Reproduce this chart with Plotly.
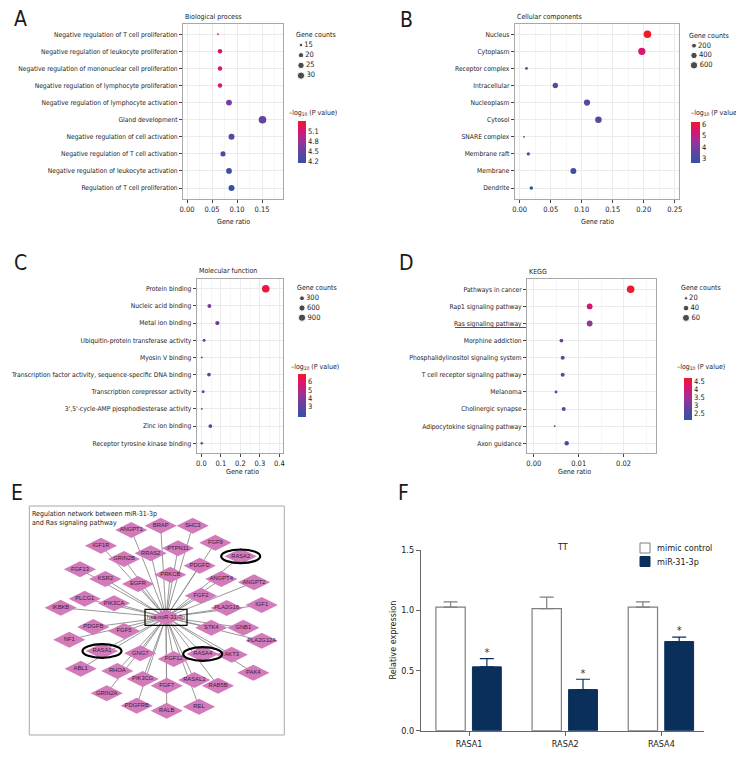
import math
import plotly.graph_objects as go

# page is 744x768; the html body has an 8px margin, so the figure is drawn 8px in
W, H = 744, 768
OFF = 8
FW, FH = W - OFF, H - OFF
FONT = "Liberation Sans Narrow, DejaVu Sans Condensed, Arial Narrow, sans-serif"
NODE_FONT = "Liberation Sans, Arial, sans-serif"
INK = "#1a1a1a"
COLORSCALE = [[0, '#3552a3'], [0.3, '#6642a0'], [0.55, '#a32f95'],
              [0.8, '#de126e'], [1, '#ec1c28']]

# ---- A: GO biological process ----
bp_terms = ["Negative regulation of T cell proliferation",
            "Negative regulation of leukocyte proliferation",
            "Negative regulation of mononuclear cell proliferation",
            "Negative regulation of lymphocyte proliferation",
            "Negative regulation of lymphocyte activation",
            "Gland development",
            "Negative regulation of cell activation",
            "Negative regulation of T cell activation",
            "Negative regulation of leukocyte activation",
            "Regulation of T cell proliferation"]
bp_ratio = [0.062, 0.066, 0.066, 0.066, 0.084, 0.151, 0.089, 0.072, 0.084, 0.089]
bp_count = [13, 17, 17, 17, 22, 32, 23, 19, 22, 23]
bp_logp = [5.35, 5.15, 5.15, 5.1, 4.6, 4.5, 4.4, 4.3, 4.2, 4.15]
bp_size_keys = [15, 20, 25, 30]
bp_cticks = [4.2, 4.5, 4.8, 5.1]

# ---- B: GO cellular components ----
cc_terms = ["Nucleus", "Cytoplasm", "Receptor complex", "Intracellular", "Nucleoplasm",
            "Cytosol", "SNARE complex", "Membrane raft", "Membrane", "Dendrite"]
cc_ratio = [0.206, 0.197, 0.011, 0.0575, 0.1086, 0.127, 0.007, 0.014, 0.0866, 0.0188]
cc_count = [640, 560, 40, 260, 380, 430, 20, 60, 340, 80]
cc_logp = [6.2, 5.4, 3.9, 3.6, 3.5, 3.4, 3.3, 3.0, 2.75, 2.7]
cc_size_keys = [200, 400, 600]
cc_cticks = [3, 4, 5, 6]

# ---- C: GO molecular function ----
mf_terms = ["Protein binding", "Nucleic acid binding", "Metal ion binding",
            "Ubiquitin-protein transferase activity", "Myosin V binding",
            "Transcription factor activity, sequence-specific DNA binding",
            "Transcription corepressor activity",
            "3',5'-cycle-AMP pjosphodiesterase activity",
            "Zinc ion binding", "Receptor tyrosine kinase binding"]
mf_ratio = [0.33, 0.041, 0.082, 0.014, 0.002, 0.039, 0.009, 0.002, 0.046, 0.002]
mf_count = [1000, 150, 200, 60, 15, 120, 50, 15, 130, 30]
mf_logp = [6.6, 3.6, 3.5, 3.1, 3.0, 3.0, 2.9, 2.8, 2.6, 2.6]
mf_size_keys = [300, 600, 900]
mf_cticks = [3, 4, 5, 6]

# ---- D: KEGG ----
kegg_terms = ["Pathways in cancer", "Rap1 signaling pathway", "Ras signaling pathway",
              "Morphine addiction", "Phosphalidylinositol signaling system",
              "T cell receptor signaling pathway", "Melanoma", "Cholinergic synapse",
              "Adipocytokine signaling pathway", "Axon guidance"]
kegg_ratio = [0.02156, 0.01244, 0.01244, 0.00615, 0.00644, 0.00644, 0.00496, 0.00667, 0.00467, 0.00733]
kegg_count = [70, 42, 42, 22, 24, 24, 18, 24, 16, 27]
kegg_logp = [4.65, 4.0, 3.35, 3.0, 2.95, 2.9, 2.85, 2.6, 2.6, 2.3]
kegg_size_keys = [20, 40, 60]
kegg_cticks = [2.5, 3.0, 3.5, 4.0, 4.5]

# ---- E: regulation network (layout positions) ----
mirna_name = "hsa-miR-31-3p"
mirna_pos = (166, 617.3)
net_genes = ["ANGPT1", "BRAP", "SHC3", "IGF1R", "FGF9", "RRAS2", "PTPN11", "RASA2",
             "GRIN2B", "PDGFD", "FGF13", "PRKCB", "KSR2", "EGFR", "ANGPT4", "ANGPT2",
             "FGF2", "PLCG1", "PIK3CA", "IKBKB", "PLA2G16", "IGF1", "PDGFB", "STK4",
             "GNB1", "FGF5", "NF1", "PLA2G12A", "RASA1", "GNG7", "RASA4", "AKT3",
             "FGF12", "ABL1", "RHOA", "PAK4", "PIK3CG", "RASAL2", "FGF7", "RAB5B",
             "GRIN2A", "PDGFRB", "RALB", "REL"]
net_x = [131.3, 160.7, 192.7, 101, 215.3, 150.7, 178, 240.7, 124, 199.7, 80, 170.3,
         105.3, 138, 221.3, 254, 201, 84.7, 114, 60.7, 226.7, 261.7, 93.3, 211.3,
         243.3, 124, 69.3, 261.7, 102, 140.3, 202.7, 231.7, 173.7, 80.7, 117.3, 253.3,
         142.7, 194.3, 166.7, 218, 106.7, 136.7, 166.7, 199]
net_y = [530, 525.7, 525.7, 545.7, 542.7, 553.3, 548.3, 556.3, 559, 565.7, 569.3, 574.7,
         579, 584, 579, 582.3, 595.7, 598.7, 603.3, 607.7, 608, 605, 627, 627.7,
         627.7, 631, 639.7, 640.7, 651, 653.3, 654, 654.7, 659, 668.7, 671, 672.7,
         679, 680, 685.7, 685.7, 693.3, 705.7, 710.7, 706.7]
highlight = ["RASA1", "RASA2", "RASA4"]

# ---- F: qPCR ----
genes = ["RASA1", "RASA2", "RASA4"]
ctrl_mean = [1.026, 1.014, 1.026]
ctrl_sem = [0.044, 0.095, 0.044]
mir_mean = [0.53, 0.341, 0.74]
mir_sem = [0.068, 0.086, 0.036]


def px(x):
    return (x - OFF) / FW


def py(y):
    return 1 - (y - OFF) / FH


def dot_size(v, lo, hi, dmin=1.8, dmax=7.6):
    return dmin + (dmax - dmin) * math.sqrt(max(v - lo, 0) / (hi - lo))


def note(text, x, y, size=7, xanchor='center', yanchor='middle', **kw):
    return dict(text=text, x=px(x), y=py(y), xref='paper', yref='paper', xanchor=xanchor,
                yanchor=yanchor, showarrow=False, font=dict(size=size, family=FONT, color=INK),
                **kw)


fig = go.Figure()
annotations = []
shapes = []
layout_axes = {}


def add_dot_panel(n, title, terms, ratio, count, logp, keys, cticks, box, xrange,
                  dtick, xfmt, ypad, crange, cbar, cb_title, leg, xtitle):
    x0, x1, y0, y1 = box
    xa, ya = ('xaxis', 'yaxis') if n == 1 else (f'xaxis{n}', f'yaxis{n}')
    xr, yr = ('x', 'y') if n == 1 else (f'x{n}', f'y{n}')
    lo, hi = min(count), max(count)
    cb_x, cb_y0, cb_y1, cb_w = cbar
    fig.add_trace(go.Scatter(
        x=ratio, y=terms, mode='markers', xaxis=xr, yaxis=yr,
        marker=dict(size=[dot_size(c, lo, hi) for c in count], color=logp,
                    colorscale=COLORSCALE, cmin=crange[0], cmax=crange[1],
                    line=dict(width=0), opacity=1, showscale=True,
                    colorbar=dict(x=px(cb_x), xanchor='left', y=py(cb_y0), yanchor='top',
                                  len=cb_y1 - cb_y0, lenmode='pixels', thickness=cb_w,
                                  thicknessmode='pixels', outlinewidth=0, ticks='',
                                  tickvals=cticks, xpad=0, ypad=0,
                                  tickfont=dict(size=7.5, family=FONT, color=INK))),
        hoverinfo='skip'))
    layout_axes[xa] = dict(domain=[px(x0), px(x1)], range=xrange, anchor=yr, automargin=False,
                           tick0=0, dtick=dtick, tickformat=xfmt,
                           showgrid=True, gridcolor='#ebebeb', zeroline=False,
                           minor=dict(dtick=dtick / 2, showgrid=True, gridcolor='#f6f6f6'),
                           showline=True, mirror=True, linecolor='#a8a8a8', linewidth=1,
                           ticks='outside', ticklen=3, tickcolor='#444',
                           tickfont=dict(size=7.5, family=FONT, color=INK))
    nt = len(terms)
    layout_axes[ya] = dict(domain=[py(y1), py(y0)], type='category', anchor=xr,
                           automargin=False, categoryorder='array', categoryarray=terms,
                           range=[nt - 1 + ypad[1], -ypad[0]],
                           showgrid=True, gridcolor='#ebebeb', zeroline=False,
                           showline=True, mirror=True, linecolor='#a8a8a8', linewidth=1,
                           ticks='outside', ticklen=3, tickcolor='#444',
                           tickfont=dict(size=6.7, family=FONT, color=INK))
    annotations.append(note(title, x0, y0 - 1.5, xanchor='left', yanchor='bottom'))
    annotations.append(note('Gene ratio', xtitle[0], xtitle[1]))
    annotations.append(note('\u2013log<sub>10</sub> (P value)', cb_title[0], cb_title[1],
                            xanchor='left'))
    # size legend
    lx, ly0, lstep = leg
    annotations.append(note('Gene counts', lx - 7, ly0 - 10, xanchor='left'))
    ys = [ly0 + i * lstep for i in range(len(keys))]
    fig.add_trace(go.Scatter(
        x=[lx] * len(keys), y=ys, xaxis='x7', yaxis='y7', mode='markers+text',
        text=[str(k) for k in keys], textposition='middle right',
        textfont=dict(size=7.5, family=FONT, color=INK),
        marker=dict(size=[dot_size(k, lo, hi) for k in keys], color='black'),
        hoverinfo='skip'))


add_dot_panel(1, 'Biological process', bp_terms, bp_ratio, bp_count, bp_logp,
              bp_size_keys, bp_cticks, (183, 283, 24, 199), [-0.008, 0.192], 0.05, '.2f',
              (0.6, 0.64), (4.14, 5.41), (298, 121, 163, 8), (287, 113), (301, 45, 10.2),
              (233, 222))
add_dot_panel(2, 'Cellular components', cc_terms, cc_ratio, cc_count, cc_logp,
              cc_size_keys, cc_cticks, (514.7, 679.3, 24, 199), [-0.008, 0.2574], 0.05, '.2f',
              (0.6, 0.64), (2.63, 6.17), (691, 122, 163, 9), (689, 113), (694, 45.7, 9.8),
              (597, 222))
add_dot_panel(3, 'Molecular function', mf_terms, mf_ratio, mf_count, mf_logp,
              mf_size_keys, mf_cticks, (196.7, 282.7, 278.5, 452.7), [-0.024, 0.417], 0.1,
              '.1f', (0.6, 0.55), (1.66, 6.96), (298, 374, 417, 8), (289, 367),
              (302, 298.3, 9.7), (242, 472))
add_dot_panel(4, 'KEGG', kegg_terms, kegg_ratio, kegg_count, kegg_logp,
              kegg_size_keys, kegg_cticks, (527, 656, 279, 452.7), [-0.0015, 0.0272], 0.01,
              '.2f', (0.6, 0.55), (2.1, 4.71), (684, 378, 420, 8), (675, 367),
              (686, 298.3, 9.8), (574, 472))

# overlay axis in page-pixel units for the size legends
layout_axes['xaxis7'] = dict(domain=[0, 1], range=[OFF, W], visible=False, anchor='y7',
                             automargin=False)
layout_axes['yaxis7'] = dict(domain=[0, 1], range=[H, OFF], visible=False, anchor='x7',
                             automargin=False)

# Ras signaling pathway underline
shapes.append(dict(type='line', xref='paper', yref='paper', x0=px(455), x1=px(526),
                   y0=py(327.5), y1=py(327.5), line=dict(color='#c0272d', width=1)))

# ---- E: network ----
ex0, ex1, ey0, ey1 = 29.3, 284.3, 506, 735
layout_axes['xaxis5'] = dict(domain=[px(ex0), px(ex1)], range=[ex0, ex1], visible=False,
                             anchor='y5', automargin=False)
layout_axes['yaxis5'] = dict(domain=[py(ey1), py(ey0)], range=[ey1, ey0], visible=False,
                             anchor='x5', automargin=False)
shapes.append(dict(type='rect', xref='paper', yref='paper', x0=px(ex0), x1=px(ex1),
                   y0=py(ey1), y1=py(ey0), line=dict(color='#a8a8a8', width=1)))
edge_x, edge_y = [], []
for gx, gy in zip(net_x, net_y):
    edge_x += [mirna_pos[0], gx, None]
    edge_y += [mirna_pos[1], gy, None]
fig.add_trace(go.Scatter(x=edge_x, y=edge_y, xaxis='x5', yaxis='y5', mode='lines',
                         line=dict(color='#8c8c8c', width=0.9), hoverinfo='skip'))
fig.add_trace(go.Scatter(
    x=net_x + [mirna_pos[0]], y=net_y + [mirna_pos[1]], xaxis='x5', yaxis='y5',
    mode='markers+text', text=net_genes + [mirna_name], textposition='middle center',
    textfont=dict(size=5.8, family=NODE_FONT, color='#3a1c36'),
    marker=dict(symbol='diamond-wide', size=23, color='#d37abb', line=dict(width=0)),
    hoverinfo='skip'))
shapes.append(dict(type='rect', xref='x5', yref='y5', x0=mirna_pos[0] - 21,
                   x1=mirna_pos[0] + 21, y0=mirna_pos[1] - 8, y1=mirna_pos[1] + 8,
                   line=dict(color='black', width=1.2)))
for g in highlight:
    i = net_genes.index(g)
    shapes.append(dict(type='circle', xref='x5', yref='y5', x0=net_x[i] - 19.5,
                       x1=net_x[i] + 19.5, y0=net_y[i] - 6.8, y1=net_y[i] + 6.8,
                       line=dict(color='black', width=2.2)))
annotations.append(note('Regulation network between miR-31-3p<br>and Ras signaling pathway',
                        30, 508, size=7, xanchor='left', yanchor='top', align='left'))

# ---- F: bar chart ----
cat = list(range(len(genes)))
GRAY = '#7f7f7f'
NAVY = '#0b2f5b'
fig.add_trace(go.Bar(x=cat, y=ctrl_mean, xaxis='x6', yaxis='y6', width=0.305, offset=-0.345,
                     marker=dict(color='white', line=dict(color=GRAY, width=1.2)),
                     error_y=dict(type='data', array=ctrl_sem, arrayminus=[0] * 3,
                                  symmetric=False, color=GRAY, thickness=1.2, width=7),
                     hoverinfo='skip'))
fig.add_trace(go.Bar(x=cat, y=mir_mean, xaxis='x6', yaxis='y6', width=0.3, offset=0.035,
                     marker=dict(color=NAVY, line=dict(color=NAVY, width=1)),
                     error_y=dict(type='data', array=mir_sem, arrayminus=[0] * 3,
                                  symmetric=False, color=NAVY, thickness=1.2, width=7),
                     hoverinfo='skip'))
fig.add_trace(go.Scatter(x=[c + 0.185 for c in cat], y=[m + s for m, s in zip(mir_mean, mir_sem)],
                         xaxis='x6', yaxis='y6', mode='text', text=['*'] * 3,
                         textposition='top center',
                         textfont=dict(size=11, family=FONT, color='#333'), hoverinfo='skip'))
layout_axes['xaxis6'] = dict(domain=[px(421), px(703.7)], range=[-0.5, 2.44], anchor='y6',
                             automargin=False,
                             tickvals=cat, ticktext=genes, showgrid=False, zeroline=False,
                             showline=True, linecolor='#666', linewidth=1.2,
                             ticks='outside', ticklen=4, tickcolor='#666',
                             tickfont=dict(size=9, family=FONT, color=INK))
layout_axes['yaxis6'] = dict(domain=[py(730.7), py(550)], range=[0, 1.5], anchor='x6',
                             automargin=False,
                             dtick=0.5, tickformat='.1f', showgrid=False, zeroline=False,
                             showline=True, linecolor='#666', linewidth=1.2,
                             ticks='outside', ticklen=4, tickcolor='#666',
                             tickfont=dict(size=9, family=FONT, color=INK))
annotations.append(note('Relative expression', 392, 640.5, size=9, textangle=-90))
annotations.append(note('TT', 562, 547, size=9))
for label, fill, line, yy in [('mimic control', 'white', GRAY, 548), ('miR-31-3p', NAVY, NAVY, 561.5)]:
    shapes.append(dict(type='rect', xref='paper', yref='paper', x0=px(640), x1=px(650),
                       y0=py(yy + 5), y1=py(yy - 5), fillcolor=fill,
                       line=dict(color=line, width=1)))
    annotations.append(note(label, 655, yy, size=9, xanchor='left'))

# panel letters
for letter, lx, ly in [('A', 20, 19), ('B', 406, 20), ('C', 20, 263), ('D', 406, 263),
                       ('E', 17, 493), ('F', 404, 493)]:
    annotations.append(note(letter, lx, ly, size=21))

fig.update_layout(width=FW, height=FH, margin=dict(l=0, r=0, t=0, b=0, autoexpand=False),
                  paper_bgcolor='white', plot_bgcolor='rgba(0,0,0,0)', showlegend=False,
                  barmode='overlay', annotations=annotations, shapes=shapes, **layout_axes)
fig.write_html("out.html")
